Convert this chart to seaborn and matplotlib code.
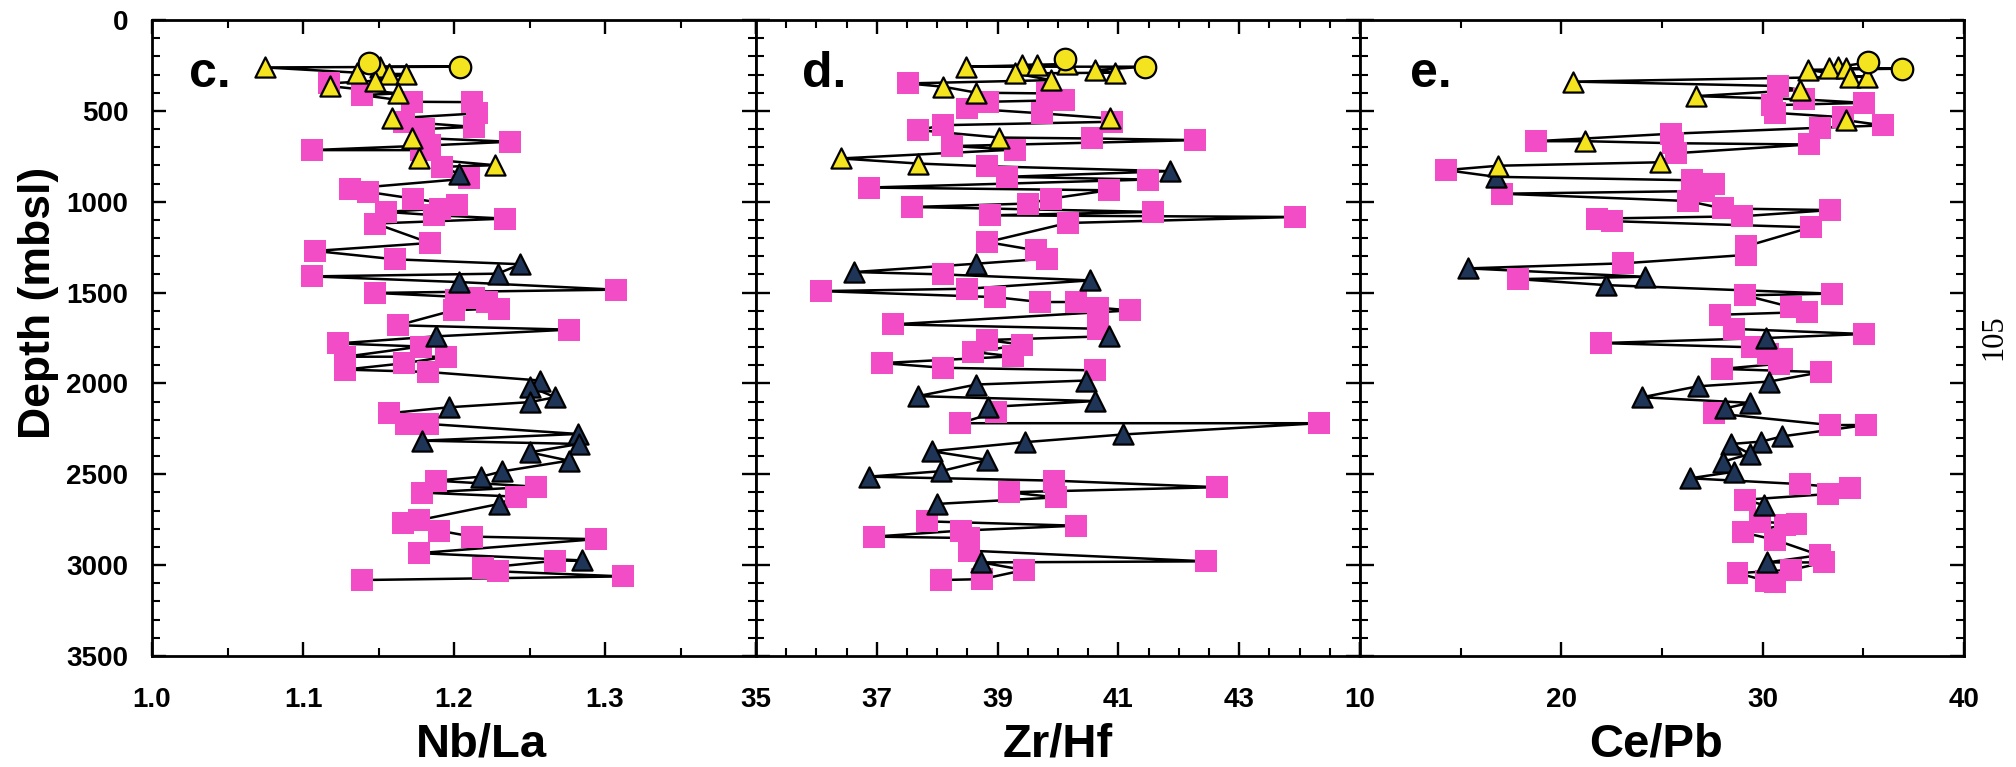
import matplotlib
matplotlib.use("Agg")
import matplotlib.pyplot as plt
import numpy as np
import pandas as pd
import seaborn as sns
from matplotlib.ticker import FixedLocator, MultipleLocator, FuncFormatter

# Sample kinds: O = yellow circle, Y = yellow triangle, P = pink square, D = dark triangle

# ---- c. Nb/La ----
depth_c = [239, 257, 257, 261, 290, 297, 297, 334, 349, 364,
           404, 413, 450, 452, 514, 542, 560, 588, 600, 643,
           647, 670, 690, 716, 716, 762, 799, 808, 845, 872,
           928, 946, 983, 1019, 1038, 1056, 1074, 1093, 1120, 1227,
           1271, 1317, 1344, 1396, 1411, 1442, 1484, 1502, 1528, 1543,
           1552, 1588, 1597, 1680, 1704, 1741, 1780, 1797, 1853, 1853,
           1889, 1924, 1937, 1984, 2017, 2076, 2103, 2131, 2164, 2223,
           2223, 2278, 2315, 2333, 2379, 2425, 2484, 2513, 2535, 2568,
           2601, 2623, 2663, 2752, 2770, 2810, 2843, 2857, 2934, 2974,
           2976, 3016, 3034, 3062, 3082]
nb_la = [1.144, 1.151, 1.204, 1.075, 1.136, 1.157, 1.168, 1.148, 1.117, 1.118,
         1.163, 1.139, 1.172, 1.212, 1.215, 1.159, 1.167, 1.213, 1.180, 1.179,
         1.172, 1.237, 1.184, 1.106, 1.178, 1.177, 1.227, 1.192, 1.203, 1.210,
         1.131, 1.143, 1.173, 1.202, 1.191, 1.155, 1.187, 1.234, 1.148, 1.184,
         1.108, 1.161, 1.244, 1.229, 1.106, 1.203, 1.307, 1.148, 1.213, 1.201,
         1.222, 1.230, 1.200, 1.163, 1.276, 1.188, 1.123, 1.178, 1.128, 1.195,
         1.167, 1.128, 1.183, 1.257, 1.250, 1.267, 1.250, 1.197, 1.157, 1.168,
         1.183, 1.282, 1.179, 1.283, 1.250, 1.276, 1.232, 1.218, 1.188, 1.254,
         1.179, 1.241, 1.230, 1.177, 1.166, 1.190, 1.212, 1.294, 1.177, 1.285,
         1.267, 1.219, 1.229, 1.312, 1.139]
kind_c = ("OYOYYYYYPYYPPPPYPPPPYPPPPYYPDP" "PPPPPPPPPPPP" "DDPD" "PPPPPPPPP" "D"
          "PPPPPPP" "DDDDD" "PPP" "DDDDDDD" "PPPP" "D" "PPPPPP" "D" "PPPPP")

# ---- d. Zr/Hf ----
depth_d = [217, 242, 248, 248, 257, 257, 276, 290, 294, 331,
           349, 367, 400, 404, 441, 450, 487, 514, 542, 560,
           579, 606, 647, 652, 661, 694, 713, 762, 790, 805,
           832, 863, 878, 922, 937, 983, 1010, 1029, 1056, 1075,
           1084, 1117, 1222, 1268, 1313, 1341, 1387, 1400, 1433, 1479,
           1492, 1525, 1552, 1552, 1583, 1598, 1675, 1699, 1740, 1761,
           1787, 1827, 1851, 1888, 1914, 1928, 1984, 2006, 2070, 2097,
           2130, 2158, 2219, 2219, 2281, 2323, 2373, 2421, 2483, 2513,
           2535, 2571, 2599, 2627, 2663, 2759, 2783, 2810, 2843, 2851,
           2920, 2979, 2985, 3027, 3077, 3082]
zr_hf = [40.11, 40.15, 39.41, 39.66, 38.47, 41.44, 40.61, 40.94, 39.29, 39.89,
         37.51, 38.10, 38.65, 39.81, 40.10, 38.84, 38.50, 39.74, 40.86, 40.90,
         38.09, 37.69, 39.03, 40.57, 42.27, 38.24, 39.29, 36.40, 37.69, 38.83,
         41.86, 39.15, 41.49, 36.87, 40.84, 39.88, 39.51, 37.59, 41.58, 38.87,
         43.92, 40.16, 38.83, 39.64, 39.82, 38.65, 36.63, 38.09, 40.53, 38.50,
         36.08, 38.96, 39.70, 40.30, 40.66, 41.20, 37.27, 40.66, 40.84, 38.83,
         39.41, 38.60, 39.25, 37.09, 38.10, 40.61, 40.47, 38.65, 37.68, 40.61,
         38.84, 38.97, 38.38, 44.32, 41.07, 39.46, 37.91, 38.83, 38.06, 36.87,
         39.93, 42.63, 39.19, 39.97, 38.00, 37.83, 40.30, 38.39, 36.96, 38.52,
         38.52, 42.45, 38.73, 39.44, 38.74, 38.07]
kind_d = ("OYYYYOYYYY" "PYYPPPPPYP" "PPYPPPPYYP" "DPPPPPPPPP" "PPPPPDDPDP"
          "PPPPPPPPDP" "PPPPPPDDDD" "DPPPDDDDDD" "PPPPDPPPPP" "PPDPPP")

# ---- e. Ce/Pb ----
depth_e = [233, 259, 265, 265, 268, 274, 311, 311, 339, 363,
           385, 419, 437, 456, 469, 511, 535, 552, 580, 593,
           626, 667, 667, 678, 685, 733, 783, 802, 826, 863,
           882, 900, 941, 956, 996, 1037, 1046, 1080, 1093, 1107,
           1141, 1246, 1293, 1339, 1367, 1413, 1426, 1459, 1506, 1515,
           1580, 1607, 1622, 1700, 1728, 1750, 1778, 1801, 1837, 1865,
           1892, 1920, 1938, 1990, 2016, 2076, 2107, 2137, 2164, 2229,
           2229, 2291, 2320, 2333, 2388, 2431, 2486, 2522, 2554, 2578,
           2609, 2640, 2670, 2761, 2774, 2780, 2820, 2861, 2945, 2985,
           2985, 3026, 3044, 3086, 3092]
ce_pb = [35.23, 33.72, 33.27, 34.16, 36.91, 32.26, 34.34, 35.19, 20.60, 30.76,
         31.86, 26.68, 32.03, 35.01, 30.44, 30.62, 33.98, 34.16, 35.99, 32.83,
         25.44, 18.74, 21.18, 25.55, 32.30, 25.70, 24.89, 16.87, 14.27, 16.75,
         26.50, 27.60, 27.07, 17.05, 26.27, 28.01, 33.36, 28.98, 21.75, 22.51,
         32.39, 29.16, 29.16, 23.08, 15.37, 24.14, 17.85, 22.23, 33.45, 29.11,
         31.41, 32.21, 27.87, 28.58, 35.01, 30.17, 21.98, 29.46, 30.26, 30.97,
         30.79, 27.99, 32.92, 30.30, 26.77, 24.02, 29.37, 28.13, 27.60, 33.36,
         35.14, 30.98, 29.94, 28.45, 29.37, 28.01, 28.58, 26.40, 31.86, 34.34,
         33.24, 29.11, 30.08, 29.87, 31.68, 31.11, 29.02, 30.62, 32.83, 30.23,
         33.06, 31.41, 28.75, 30.17, 30.62]
kind_e = ("OYYYOYYYYP" "YYPPPPPYPP" "PPYPPPYYPD" "PPPPPPPPPP" "PPPPDDPDPP"
          "PPPPPDPPPP" "PPPDDDDDPP" "PDDDDDDDPP" "PPDPPPPPPD" "PPPPP")

sns.set_theme(style="ticks")
plt.rcParams["font.family"] = ["Liberation Sans", "DejaVu Sans"]
plt.rcParams["font.weight"] = "bold"
plt.rcParams["axes.labelweight"] = "bold"
for key in ["text.color", "axes.labelcolor", "xtick.color", "ytick.color",
            "xtick.labelcolor", "ytick.labelcolor", "axes.edgecolor"]:
    plt.rcParams[key] = "black"

PINK = "#F24CC6"
YELLOW = "#F3E41F"
NAVY = "#1E3557"
styles = {
    "P": dict(marker="s", color=PINK, edgecolor="none", linewidth=0, s=250),
    "D": dict(marker="^", color=NAVY, edgecolor="black", linewidth=1.6, s=210),
    "Y": dict(marker="^", color=YELLOW, edgecolor="black", linewidth=1.6, s=210),
    "O": dict(marker="o", color=YELLOW, edgecolor="black", linewidth=1.6, s=240),
}

panels = [
    dict(depth=depth_c, vals=nb_la, kinds=kind_c, xlim=(1.0, 1.4),
         major=np.round(np.arange(1.0, 1.41, 0.1), 2),
         minor=np.round(np.arange(1.05, 1.4, 0.1), 2),
         show=lambda v: v < 1.35, fmt="{:.1f}", xlabel="Nb/La", labx=0.545,
         tag="c.", tagx=0.061),
    dict(depth=depth_d, vals=zr_hf, kinds=kind_d, xlim=(35, 45),
         major=np.arange(35, 46, 2), minor=np.arange(35.5, 45, 0.5),
         show=lambda v: v < 44, fmt="{:.0f}", xlabel="Zr/Hf", labx=0.5,
         tag="d.", tagx=0.076),
    dict(depth=depth_e, vals=ce_pb, kinds=kind_e, xlim=(10, 40),
         major=np.arange(10, 41, 10), minor=np.arange(15, 40, 10),
         show=lambda v: True, fmt="{:.0f}", xlabel="Ce/Pb", labx=0.49,
         tag="e.", tagx=0.083),
]

W, H = 2016, 767
fig = plt.figure(figsize=(W / 100, H / 100), dpi=100)
ax_left, ax_w = 152, 604
ax_top, ax_bot = 20, 656

for i, p in enumerate(panels):
    ax = fig.add_axes([(ax_left + i * ax_w) / W, 1 - ax_bot / H,
                       ax_w / W, (ax_bot - ax_top) / H])
    df = pd.DataFrame({"depth": p["depth"], "val": p["vals"], "kind": list(p["kinds"])})

    sns.lineplot(data=df, x="val", y="depth", sort=False, estimator=None,
                 color="black", linewidth=1.8, ax=ax, zorder=1)
    for k in ["P", "D", "Y", "O"]:
        sub = df[df["kind"] == k]
        sns.scatterplot(data=sub, x="val", y="depth", ax=ax, legend=False,
                        zorder=3, **styles[k])

    ax.set_xlim(*p["xlim"])
    ax.set_ylim(3500, 0)
    ax.xaxis.set_major_locator(FixedLocator(p["major"]))
    ax.xaxis.set_minor_locator(FixedLocator(p["minor"]))
    show, fmt = p["show"], p["fmt"]
    ax.xaxis.set_major_formatter(FuncFormatter(
        lambda v, pos, show=show, fmt=fmt: fmt.format(v) if show(v) else ""))
    ax.yaxis.set_major_locator(MultipleLocator(500))
    ax.yaxis.set_minor_locator(MultipleLocator(100))

    ax.tick_params(which="major", direction="in", length=10, width=1.7,
                   top=True, right=True, labelsize=20, colors="black")
    ax.tick_params(which="minor", direction="in", length=6, width=1.5,
                   top=True, right=True, colors="black")
    ax.tick_params(axis="x", which="major", pad=22)
    ax.tick_params(axis="y", which="major", pad=17)
    for sp in ax.spines.values():
        sp.set_linewidth(2.0)
        sp.set_color("black")
        sp.set_visible(True)

    ax.set_xlabel(p["xlabel"], fontsize=34, fontweight="bold", color="black")
    ax.xaxis.set_label_coords(p["labx"], -0.105)
    if i == 0:
        ax.set_ylabel("Depth (mbsl)", fontsize=32, fontweight="bold", color="black")
        ax.yaxis.set_label_coords(-0.154, 0.555)
    else:
        ax.set_ylabel("")
        ax.tick_params(axis="y", labelleft=False)

    ax.text(p["tagx"], 0.895, p["tag"], transform=ax.transAxes, color="black",
            fontsize=36, fontweight="bold", va="baseline", ha="left")

fig.text(1994 / W, 1 - 337 / H, "105", rotation=90, family="Liberation Serif",
         fontsize=22, fontweight="normal", ha="center", va="center", color="black")

fig.savefig("out.png", dpi=100)
